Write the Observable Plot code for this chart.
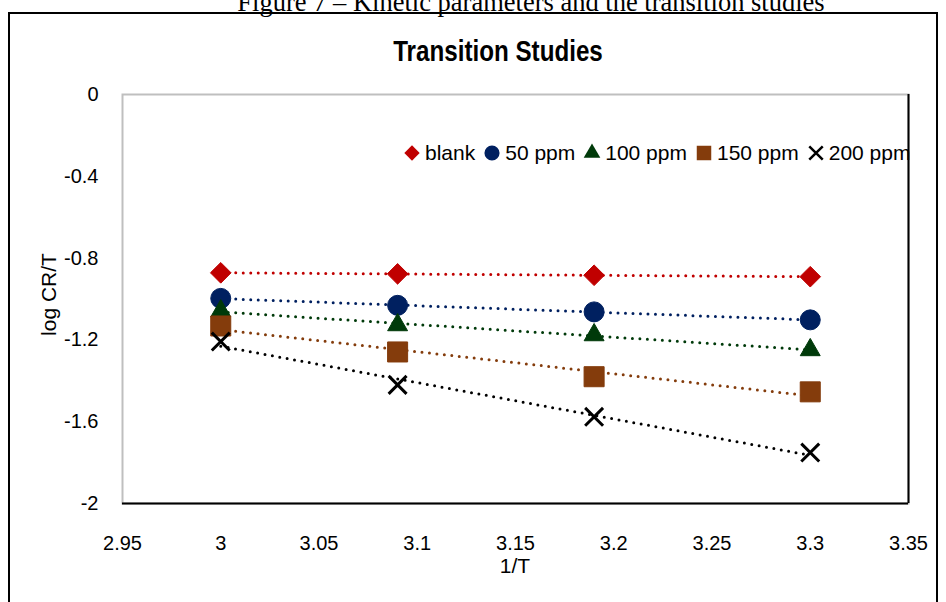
<!DOCTYPE html>
<html><head><meta charset="utf-8">
<script src="https://cdn.jsdelivr.net/npm/d3@7"></script>
<script src="https://cdn.jsdelivr.net/npm/@observablehq/plot@0.6"></script>
<style>
body{margin:0;background:#fff;}
#wrap{position:relative;width:946px;height:602px;overflow:hidden;font-family:"Liberation Sans",Arial,sans-serif;color:#000;}
#caption{position:absolute;left:131px;width:800px;top:-11px;line-height:26.5px;text-align:center;font-family:"Liberation Serif","Times New Roman",serif;font-size:26.5px;white-space:nowrap;}
#box{position:absolute;left:8px;top:12px;width:930px;height:700px;border:2px solid #000;box-sizing:border-box;}
#title{position:absolute;left:0;width:996px;top:37px;line-height:29px;text-align:center;font-family:"Liberation Sans",Arial,sans-serif;font-weight:bold;font-size:29px;white-space:nowrap;transform:scaleX(0.834);transform-origin:498px 50%;}
#chart{position:absolute;left:0;top:0;}
#legend{position:absolute;left:403px;top:141px;display:flex;align-items:center;font-size:21px;line-height:24px;white-space:nowrap;}
#legend .item{display:flex;align-items:center;margin-right:8px;}
#legend svg{width:18px;height:18px;margin-right:4px;overflow:visible;}
#xlabel{position:absolute;left:415px;width:200px;top:555px;line-height:21px;text-align:center;font-size:21px;}
#ylabel{position:absolute;left:-52px;width:200px;top:284px;line-height:21px;text-align:center;font-size:21px;transform:rotate(-90deg);}
</style>
</head><body>
<div id="wrap">
  <div id="caption">Figure 7 – Kinetic parameters and the transition studies</div>
  <div id="box"></div>
  <div id="title">Transition Studies</div>
  <div id="chart"></div>
  <div id="legend"></div>
  <div id="xlabel">1/T</div>
  <div id="ylabel">log CR/T</div>
</div>
<script>
// ---- data ----
const xValues = [3, 3.09, 3.19, 3.3];
const seriesNames = ["blank", "50 ppm", "100 ppm", "150 ppm", "200 ppm"];
const blank  = [-0.872, -0.877, -0.884, -0.891];
const ppm50  = [-0.997, -1.031, -1.063, -1.102];
const ppm100 = [-1.059, -1.127, -1.176, -1.249];
const ppm150 = [-1.132, -1.259, -1.380, -1.454];
const ppm200 = [-1.208, -1.420, -1.576, -1.751];
const xTicks = [2.95, 3, 3.05, 3.1, 3.15, 3.2, 3.25, 3.3, 3.35];
const yTicks = [0, -0.4, -0.8, -1.2, -1.6, -2];

// ---- styles ----
const colors = ["#C00000", "#002060", "#003A0A", "#843C0C", "#000000"];
const symbols = ["diamond2", "circle", "triangle", "square", "times"];
const radii = [9.3, 10, 7.4, 11.3, 8.2];
const legendSymbols = [d3.symbolDiamond2, d3.symbolCircle, d3.symbolTriangle, d3.symbolSquare, d3.symbolTimes];
const legendSizes = [150, 180, 120, 210, 120];

const allValues = [blank, ppm50, ppm100, ppm150, ppm200];
const rows = [];
seriesNames.forEach((s, i) => xValues.forEach((x, j) => rows.push({series: s, x, y: allValues[i][j]})));

const marks = [
  Plot.frame({stroke: "#bfbfbf", strokeWidth: 2}),
  Plot.ruleY([-2], {stroke: "#000", strokeWidth: 2}),
  Plot.ruleX([3.35], {stroke: "#000", strokeWidth: 2}),
  Plot.axisX({ticks: xTicks, tickSize: 0, tickPadding: 32, tickFormat: d => String(d), fontSize: 20, label: null}),
  Plot.axisY({ticks: yTicks, tickSize: 0, tickPadding: 24, tickFormat: d => String(d), fontSize: 20, label: null})
];
seriesNames.forEach((s, i) => {
  const d = rows.filter(r => r.series === s);
  marks.push(Plot.linearRegressionY(d, {x: "x", y: "y", ci: 0, stroke: colors[i], strokeWidth: 3,
    strokeDasharray: "0 7.5", strokeLinecap: "round"}));
});
seriesNames.forEach((s, i) => {
  const d = rows.filter(r => r.series === s);
  if (symbols[i] === "times") {
    marks.push(Plot.dot(d, {x: "x", y: "y", symbol: "times", r: radii[i], stroke: colors[i], strokeWidth: 3}));
  } else {
    marks.push(Plot.dot(d, {x: "x", y: "y", symbol: symbols[i], r: radii[i], fill: colors[i], stroke: colors[i], strokeWidth: 1, strokeLinejoin: "round"}));
  }
});

const chart = Plot.plot({
  width: 946, height: 602,
  marginLeft: 122, marginRight: 38, marginTop: 94, marginBottom: 99,
  style: {fontFamily: "'Liberation Sans', Arial, sans-serif", fontSize: "20px", color: "#000", background: "transparent", overflow: "visible"},
  x: {domain: [2.95, 3.35]},
  y: {domain: [-2, 0]},
  marks
});
document.getElementById("chart").appendChild(chart);

// legend
const lg = document.getElementById("legend");
seriesNames.forEach((s, i) => {
  const item = document.createElement("div");
  item.className = "item";
  const path = d3.symbol().type(legendSymbols[i]).size(legendSizes[i])();
  const isTimes = i === 4;
  item.innerHTML = `<svg viewBox="-9 -9 18 18"><path d="${path}" ${isTimes ? `fill="none" stroke="${colors[i]}" stroke-width="2.5"` : `fill="${colors[i]}"`}/></svg><span>${s}</span>`;
  lg.appendChild(item);
});
</script>
</body></html>
